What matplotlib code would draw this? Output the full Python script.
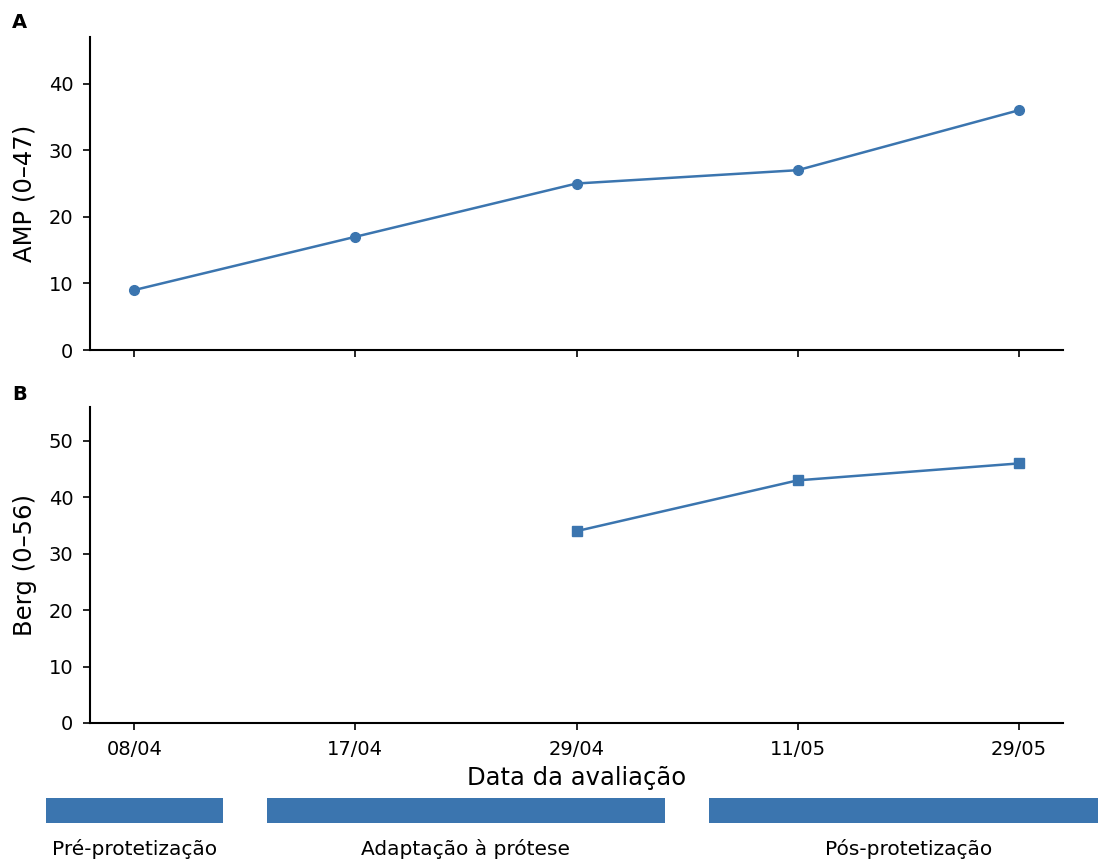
import matplotlib
matplotlib.use("Agg")
import matplotlib.pyplot as plt
import numpy as np

dates = ["08/04", "17/04", "29/04", "11/05", "29/05"]
amp = [9, 17, 25, 27, 36]
berg = [np.nan, np.nan, 34, 43, 46]
phases = ["Pré-protetização", "Adaptação à prótese", "Pós-protetização"]
phase_start = [-0.4, 0.6, 2.6]
phase_end = [0.4, 2.4, 4.4]

color = "#3b75af"
fig = plt.figure(figsize=(10.98, 8.61), dpi=100)
L, R = 90/1098, 1063/1098
ax1 = fig.add_axes([L, 1-350/861, R-L, (350-37)/861])
ax2 = fig.add_axes([L, 1-723/861, R-L, (723-407)/861])
ax3 = fig.add_axes([L, 1-823/861, R-L, (823-798)/861])

x = np.arange(len(dates))
ax1.plot(x, amp, color=color, marker="o", markersize=7, linewidth=1.8)
ax2.plot(x, berg, color=color, marker="s", markersize=7, linewidth=1.8)

for ax, ylim, lab in [(ax1, 47, "AMP (0–47)"), (ax2, 56, "Berg (0–56)")]:
    ax.set_xlim(-0.2, 4.2)
    ax.set_ylim(0, ylim)
    ax.spines["top"].set_visible(False)
    ax.spines["right"].set_visible(False)
    ax.spines["left"].set_linewidth(1.5)
    ax.spines["bottom"].set_linewidth(1.5)
    ax.set_xticks(x)
    ax.tick_params(labelsize=14, width=1.2, length=5)
    ax.tick_params(axis="y", pad=7)
    ax.set_ylabel(lab, fontsize=17.5)
ax1.set_yticks([0, 10, 20, 30, 40])
ax2.set_yticks([0, 10, 20, 30, 40, 50])
ax1.set_xticklabels([])
ax2.set_xticklabels(dates)
ax2.tick_params(axis="x", pad=7)
ax2.set_xlabel("Data da avaliação", fontsize=17.5, labelpad=5.5)
ax1.yaxis.set_label_coords(-0.0545, 0.5)
ax2.yaxis.set_label_coords(-0.0545, 0.5)

fig.text(12/1098, 1-22/861, "A", fontsize=14, fontweight="bold", va="center")
fig.text(12/1098, 1-395/861, "B", fontsize=14, fontweight="bold", va="center")

ax3.set_xlim(-0.2, 4.2)
ax3.set_ylim(0, 1)
ax3.axis("off")
for s, e, name in zip(phase_start, phase_end, phases):
    ax3.barh(0.5, e - s, left=s, height=1.0, color=color, clip_on=False)
    ax3.text((s + e) / 2, -1.05, name, ha="center", va="center", fontsize=14.5,
             clip_on=False)

fig.savefig("out.png", dpi=100)
